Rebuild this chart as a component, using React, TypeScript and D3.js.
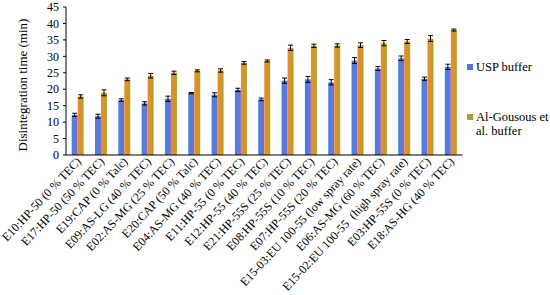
import React from "react";
import * as d3 from "d3";

const categories = [
  "E10:HP-50 (0 % TEC)",
  "E17:HP-50 (50 % TEC)",
  "E19:CAP (0 % Talc)",
  "E09:AS-LG (40 % TEC)",
  "E02:AS-MG (25 % TEC)",
  "E20:CAP (50 % Talc)",
  "E04:AS-MG (40 % TEC)",
  "E11:HP-55 (0 % TEC)",
  "E12:HP-55 (40 % TEC)",
  "E21:HP-55S (25 % TEC)",
  "E08:HP-55S (10 % TEC)",
  "E07:HP-55S (20 % TEC)",
  "E15-03:EU 100-55 (low spray rate)",
  "E06:AS-MG (60 % TEC)",
  "E15-02:EU 100-55  (high spray rate)",
  "E03:HP-55S (0 % TEC)",
  "E18:AS-HG (40 % TEC)",
];

const seriesNames = ["USP buffer", "Al-Gousous et al. buffer"];

const uspValues = [12.2, 11.8, 16.7, 15.7, 17.1, 18.8, 18.3, 19.8, 16.9, 22.6, 23.0, 22.1, 28.7, 26.3, 29.4, 23.2, 26.8];
const uspErrors = [0.5, 0.6, 0.4, 0.5, 0.8, 0.2, 0.6, 0.5, 0.4, 0.8, 0.9, 0.8, 0.9, 0.6, 0.7, 0.5, 0.8];
const agValues = [17.8, 18.9, 23.0, 24.1, 25.0, 25.6, 25.7, 28.0, 28.6, 32.6, 33.2, 33.3, 33.4, 34.0, 34.5, 35.4, 38.0];
const agErrors = [0.5, 0.9, 0.4, 0.7, 0.5, 0.3, 0.5, 0.4, 0.3, 0.8, 0.5, 0.5, 0.7, 0.8, 0.6, 0.9, 0.3];

const yTicks = [0, 5, 10, 15, 20, 25, 30, 35, 40, 45];

const FONT = "Liberation Serif, DejaVu Serif, serif";
const txt = { fontFamily: FONT };

export default function App() {
  const left = 66;
  const right = 462.5;
  const top = 7;
  const bottom = 155;

  const x = d3.scaleBand<string>().domain(categories).range([left, right]).paddingInner(0).paddingOuter(0);
  const y = d3.scaleLinear().domain([0, 45]).range([bottom, top]);
  const barW = 6;

  const series = [
    { name: seriesNames[0], values: uspValues, errors: uspErrors, grad: "gUsp", offset: -barW },
    { name: seriesNames[1], values: agValues, errors: agErrors, grad: "gAg", offset: 0 },
  ];

  return (
    <div>
      <style>{"body{margin:0}"}</style>
      <svg width={550} height={295} style={{ display: "block", background: "#fff" }}>
        <defs>
          <linearGradient id="gUsp" x1="0" x2="1" y1="0" y2="0">
            <stop offset="0%" stopColor="#3f86d8" />
            <stop offset="100%" stopColor="#7a6cd8" />
          </linearGradient>
          <linearGradient id="gAg" x1="0" x2="1" y1="0" y2="0">
            <stop offset="0%" stopColor="#ee8a2c" />
            <stop offset="100%" stopColor="#b3a22a" />
          </linearGradient>
        </defs>

        {series.map((s) =>
          categories.map((c, i) => {
            const cx = (x(c) as number) + x.bandwidth() / 2;
            const bx = cx + s.offset;
            const v = s.values[i];
            const e = s.errors[i];
            const ex = bx + barW / 2;
            return (
              <g key={s.name + c}>
                <rect x={bx} y={y(v)} width={barW} height={y(0) - y(v)} fill={`url(#${s.grad})`} />
                <line x1={ex} x2={ex} y1={y(v + e)} y2={y(v - e)} stroke="#000" strokeWidth={1} />
                <line x1={ex - 2.5} x2={ex + 2.5} y1={y(v + e)} y2={y(v + e)} stroke="#000" strokeWidth={1} />
                <line x1={ex - 2.5} x2={ex + 2.5} y1={y(v - e)} y2={y(v - e)} stroke="#000" strokeWidth={1} />
              </g>
            );
          })
        )}

        <line x1={left} x2={left} y1={top} y2={bottom} stroke="#000" strokeWidth={1} />
        {yTicks.map((t) => (
          <g key={t}>
            <line x1={left - 3} x2={left} y1={y(t)} y2={y(t)} stroke="#000" strokeWidth={1} />
            <text x={left - 7} y={y(t)} dy="0.35em" textAnchor="end" style={txt} fontSize={12} fill="#000">
              {t}
            </text>
          </g>
        ))}
        <line x1={left} x2={right} y1={bottom} y2={bottom} stroke="#000" strokeWidth={1.2} />

        <text
          transform={`translate(27,${(top + bottom) / 2 + 4}) rotate(-90)`}
          textAnchor="middle"
          style={txt}
          fontSize={13}
          fill="#000"
        >
          Disintegration time (min)
        </text>

        {categories.map((c) => {
          const cx = (x(c) as number) + x.bandwidth() / 2;
          return (
            <text
              key={c}
              transform={`translate(${cx + 4},${bottom + 7}) rotate(-47)`}
              textAnchor="end"
              style={{ ...txt, whiteSpace: "pre" }}
              fontSize={12}
              fill="#000"
            >
              {c}
            </text>
          );
        })}

        <rect x={467} y={64} width={6} height={6} fill="#5a6fd8" />
        <text x={476} y={71} style={txt} fontSize={12.5} fill="#000">
          {seriesNames[0]}
        </text>
        <rect x={467} y={114} width={6} height={6} fill="#a9a22a" />
        <text x={476} y={121} style={txt} fontSize={12.5} fill="#000">
          Al-Gousous et
        </text>
        <text x={476} y={135} style={txt} fontSize={12.5} fill="#000">
          al. buffer
        </text>
      </svg>
    </div>
  );
}
